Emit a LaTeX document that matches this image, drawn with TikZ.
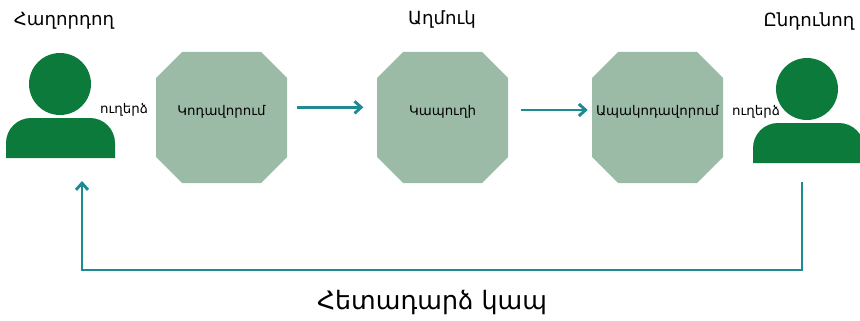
\documentclass[tikz,border=0pt]{standalone}
\usepackage{fontspec}
\setmainfont{DejaVu Sans}
\usetikzlibrary{arrows.meta}
\definecolor{pgreen}{HTML}{0B7A3A}
\definecolor{octfill}{HTML}{9BBBA6}
\definecolor{teal2}{HTML}{1E8A92}
\tikzset{
  octa/.style={minimum width=98.25pt, minimum height=90pt, inner sep=0pt,
    font=\fontsize{10}{12}\selectfont},
  head/.style={circle, fill=pgreen, minimum size=46.5pt, inner sep=0pt},
  title/.style={font=\fontsize{13.6}{16}\selectfont},
  msg/.style={font=\fontsize{10}{12}\selectfont},
  flow/.style={teal2, line width=2.2pt, -{Straight Barb[length=5pt,width=9pt,line width=2.2pt]}},
}
\newcommand\octfill[2]{\fill[octfill] (#1,#2) +(-65.5,-39.5) -- +(-39.5,-65.5) -- +(39.5,-65.5) -- +(65.5,-39.5)
  -- +(65.5,39.5) -- +(39.5,65.5) -- +(-39.5,65.5) -- +(-65.5,39.5) -- cycle;}
\newcommand\personbody[3]{\fill[pgreen] (#1,#2) ++(0,40) -- ++(0,-15)
  .. controls +(0,-13.8) and +(-13.8,0) .. ++(25,-25) -- ++(#3,0)
  .. controls +(13.8,0) and +(0,-13.8) .. ++(25,25) -- ++(0,15) -- cycle;}
\begin{document}
\begin{tikzpicture}[x=0.75pt,y=-0.75pt]
\useasboundingbox (0,0) rectangle (860,321);
% sender
\node[head] (sH) at (60,84) {};
\personbody{6}{118}{59}
\node[title] (sL) at (64,21) {Հաղորդող};
\node[msg] (sM) at (124,110) {ուղերձ};
% octagons
\octfill{221.5}{117.5}
\node[octa] (enc) at (221.5,112) {Կոդավորում};
\octfill{442.5}{117.5}
\node[octa] (chan) at (442.5,112) {Կապուղի};
\octfill{657.5}{117.5}
\node[octa] (dec) at (657.5,112) {Ապակոդավորում};
\node[title] (noise) at (442,19) {Աղմուկ};
% receiver
\node[head] (rH) at (807,89) {};
\personbody{753}{123}{61}
\node[title] (rL) at (809,21) {Ընդունող};
\node[msg] (rM) at (756,112) {ուղերձ};
% arrows
\draw[flow] ([xshift=7.5pt,yshift=3.5pt]enc.east) -- ([xshift=-10pt,yshift=3.5pt]chan.west);
\draw[flow] ([xshift=9.5pt,yshift=1.5pt]chan.east) -- ([xshift=-3pt,yshift=1.5pt]dec.west);
% feedback
\coordinate (fbS) at (802,182);
\coordinate (fbE) at (82,181);
\draw[flow] (fbS) -- ++(0,88) -| (fbE);
\node[font=\fontsize{19}{23}\selectfont] (fbL) at (432,303) {Հետադարձ կապ};
\end{tikzpicture}
\end{document}
